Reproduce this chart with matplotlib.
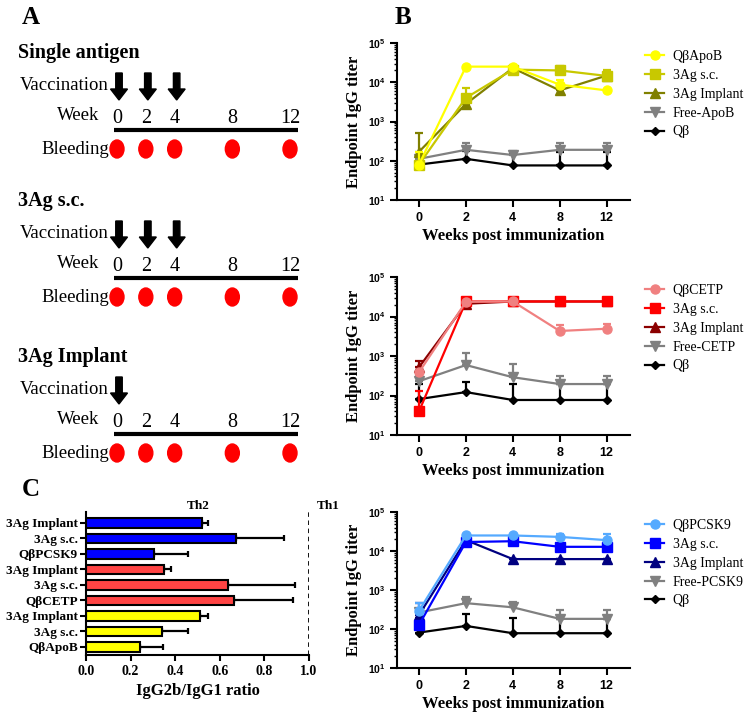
import numpy as np
import matplotlib.pyplot as plt
from matplotlib.patches import Ellipse
from matplotlib.ticker import LogLocator, FuncFormatter, NullFormatter

plt.rcParams['font.family'] = ['Liberation Serif', 'DejaVu Serif']
plt.rcParams['mathtext.fontset'] = 'custom'
plt.rcParams['mathtext.rm'] = 'Liberation Sans'
plt.rcParams['mathtext.bf'] = 'Liberation Sans:bold'

## data

weeks = [0, 2, 4, 8, 12]

# panel A schematic
schedules = ['Single antigen', '3Ag s.c.', '3Ag Implant']
vacc_weeks = [[0, 2, 4], [0, 2, 4], [0]]

# panel B: mean titers and upper end of the error bar
apob_labels = ['QβApoB', '3Ag s.c.', '3Ag Implant', 'Free-ApoB', 'Qβ']
apob_mean = [[80, 25000, 25000, 8700, 6200],
             [80, 4000, 21000, 20000, 14500],
             [170, 2800, 23000, 6200, 14800],
             [112, 190, 140, 190, 190],
             [80, 112, 76, 76, 76]]
apob_upper = [[170, 25000, 25000, 11500, 6200],
              [80, 7100, 28000, 26000, 20000],
              [500, 2800, 23000, 6200, 14800],
              [130, 290, 175, 290, 290],
              [80, 180, 150, 170, 170]]

cetp_labels = ['QβCETP', '3Ag s.c.', '3Ag Implant', 'Free-CETP', 'Qβ']
cetp_mean = [[390, 23500, 24000, 4300, 4900],
             [40, 24000, 24000, 24000, 24000],
             [520, 21000, 24000, 24000, 24000],
             [230, 590, 290, 195, 195],
             [81, 122, 77, 77, 77]]
cetp_upper = [[390, 23500, 24000, 6000, 6600],
              [130, 24000, 24000, 24000, 24000],
              [740, 21000, 24000, 24000, 24000],
              [320, 1180, 620, 310, 310],
              [195, 220, 195, 195, 195]]

pcsk9_labels = ['QβPCSK9', '3Ag s.c.', '3Ag Implant', 'Free-PCSK9', 'Qβ']
pcsk9_mean = [[295, 25000, 25000, 23000, 19000],
              [128, 17000, 17800, 12800, 12800],
              [230, 19000, 6200, 6200, 6200],
              [265, 460, 360, 182, 182],
              [81, 120, 78, 78, 78]]
pcsk9_upper = [[455, 25000, 25000, 28000, 28000],
               [128, 17000, 17800, 12800, 12800],
               [475, 19000, 6200, 6200, 6200],
               [265, 650, 490, 310, 310],
               [190, 240, 195, 180, 180]]

apob_colors = ['#FFFF00', '#C8C800', '#808000', '#808080', '#000000']
cetp_colors = ['#F08080', '#FF0000', '#8B0000', '#808080', '#000000']
pcsk9_colors = ['#55AAFF', '#0000FF', '#000080', '#808080', '#000000']
series_markers = ['o', 's', '^', 'v', 'D']

# panel C (bottom to top)
c_labels = ['QβApoB', '3Ag s.c.', '3Ag Implant',
            'QβCETP', '3Ag s.c.', '3Ag Implant',
            'QβPCSK9', '3Ag s.c.', '3Ag Implant']
c_ratio = [0.242, 0.342, 0.51, 0.664, 0.639, 0.351, 0.304, 0.672, 0.522]
c_upper = [0.346, 0.458, 0.548, 0.928, 0.939, 0.379, 0.458, 0.887, 0.548]
c_colors = ['#FFFF00'] * 3 + ['#FF4444'] * 3 + ['#0000FF'] * 3

W, H = 748, 712
fig = plt.figure(figsize=(W / 100, H / 100), dpi=100)

## panel A: schematic drawn in pixel units
axA = fig.add_axes([0, 0, 1, 1])
axA.set_xlim(0, W)
axA.set_ylim(H, 0)
axA.axis('off')

def wx(w):
    return 117 + w * (290 - 117) / 12

axA.text(22, 17, 'A', fontsize=18, fontweight='bold', va='center')
axA.text(395, 17, 'B', fontsize=18, fontweight='bold', va='center')
axA.text(22, 490, 'C', fontsize=18, fontweight='bold', va='center')

for title, ty, vw in zip(schedules, [53, 201, 357], vacc_weeks):
    axA.text(18, ty, title, fontsize=14.5, fontweight='bold', va='center')
    axA.text(109, ty + 33, 'Vaccination', fontsize=13.5, ha='right', va='center')
    for w in vw:
        axA.arrow(wx(w) + 2, ty + 20, 0, 27, width=6.5, head_width=17,
                  head_length=11, length_includes_head=True, fc='black', ec='black')
    axA.text(78, ty + 62, 'Week', fontsize=13.5, ha='center', va='center')
    for w in weeks:
        axA.text(wx(w), ty + 75, str(w), fontsize=14.5, ha='center', va='bottom')
    axA.plot([wx(0) - 3, wx(12) + 8], [ty + 77, ty + 77], color='black', lw=3, solid_capstyle='butt')
    axA.text(109, ty + 96, 'Bleeding', fontsize=13.5, ha='right', va='center')
    for w in weeks:
        axA.add_patch(Ellipse((wx(w), ty + 96), 14, 18, color='red'))

## panel B
def titer_panel(rect, labels, mean, upper, colors):
    ax = fig.add_axes(rect)
    x = np.arange(len(weeks))
    for i in reversed(range(len(labels))):
        m = np.array(mean[i], float)
        err = np.clip(np.array(upper[i], float) - m, 0, None)
        ax.errorbar(x, m, yerr=[np.zeros_like(m), err], fmt='none', ecolor=colors[i],
                    elinewidth=1.6, capsize=3, capthick=1.6, zorder=2 + (4 - i))
    handles = []
    for i in reversed(range(len(labels))):
        ms = 4.5 if series_markers[i] == 'D' else 6.5
        h, = ax.plot(x, mean[i], color=colors[i], marker=series_markers[i], markersize=ms,
                     lw=1.6, label=labels[i], zorder=3 + (4 - i))
        handles.insert(0, h)
    ax.set_yscale('log')
    ax.set_ylim(10, 1e5)
    ax.set_xlim(-0.47, 4.5)
    ax.set_xticks(x)
    ax.set_xticklabels([str(w) for w in weeks], fontfamily='Liberation Sans',
                       fontweight='bold', fontsize=9)
    ax.yaxis.set_major_locator(LogLocator(base=10, numticks=10))
    ax.yaxis.set_minor_locator(LogLocator(base=10, subs=np.arange(2, 10), numticks=10))
    ax.yaxis.set_minor_formatter(NullFormatter())
    ax.yaxis.set_major_formatter(FuncFormatter(
        lambda v, p: r'$\mathbf{10^{%d}}$' % round(np.log10(v))))
    ax.tick_params(axis='y', labelsize=7.5)
    ax.tick_params(direction='out', width=1.5, length=5)
    ax.tick_params(which='minor', direction='out', width=1, length=2.5)
    for s in ['top', 'right']:
        ax.spines[s].set_visible(False)
    for s in ['left', 'bottom']:
        ax.spines[s].set_linewidth(1.5)
    ax.set_xlabel('Weeks post immunization', fontsize=12, fontweight='bold', labelpad=3)
    ax.set_ylabel('Endpoint IgG titer', fontsize=12, fontweight='bold', labelpad=4)
    ax.legend(handles=handles, loc='upper left', bbox_to_anchor=(1.064, 0.955),
              frameon=False, fontsize=10, borderpad=0, borderaxespad=0,
              handlelength=1.4, handletextpad=0.6, labelspacing=0.42)
    return ax

titer_panel([397 / W, 1 - 200 / H, 233 / W, 157 / H], apob_labels, apob_mean, apob_upper, apob_colors)
titer_panel([397 / W, 1 - 435 / H, 233 / W, 158 / H], cetp_labels, cetp_mean, cetp_upper, cetp_colors)
titer_panel([397 / W, 1 - 668 / H, 233 / W, 156 / H], pcsk9_labels, pcsk9_mean, pcsk9_upper, pcsk9_colors)

## panel C
axC = fig.add_axes([86 / W, 1 - 655 / H, 223 / W, 143 / H])
y = np.arange(len(c_labels))
r = np.array(c_ratio)
axC.errorbar(r, y, xerr=[np.zeros_like(r), np.array(c_upper) - r], fmt='none',
             ecolor='black', elinewidth=1.6, capsize=2.5, capthick=1.6, zorder=1)
axC.barh(y, r, height=0.6, color=c_colors, edgecolor='black', linewidth=1.5, zorder=2)
axC.axvline(1.0, color='black', ls=(0, (2.5, 2)), lw=1.3)
axC.set_xlim(0, 1.0)
axC.set_ylim(-0.52, 8.7)
axC.set_yticks(y)
axC.set_yticklabels(c_labels, fontsize=9.5, fontweight='bold')
axC.set_xticks([0, 0.2, 0.4, 0.6, 0.8, 1.0])
axC.set_xticklabels(['0.0', '0.2', '0.4', '0.6', '0.8', '1.0'], fontsize=10, fontweight='bold')
axC.tick_params(direction='out', width=1.5, length=4)
axC.tick_params(axis='y', pad=2)
for s in ['top', 'right']:
    axC.spines[s].set_visible(False)
for s in ['left', 'bottom']:
    axC.spines[s].set_linewidth(1.5)
axC.set_xlabel('IgG2b/IgG1 ratio', fontsize=12, fontweight='bold', labelpad=3)
axC.text(0.502, 1.04, 'Th2', transform=axC.transAxes, ha='center', va='center',
         fontsize=9.5, fontweight='bold')
axC.text(1.085, 1.04, 'Th1', transform=axC.transAxes, ha='center', va='center',
         fontsize=9.5, fontweight='bold')

plt.savefig('out.png', dpi=100)
